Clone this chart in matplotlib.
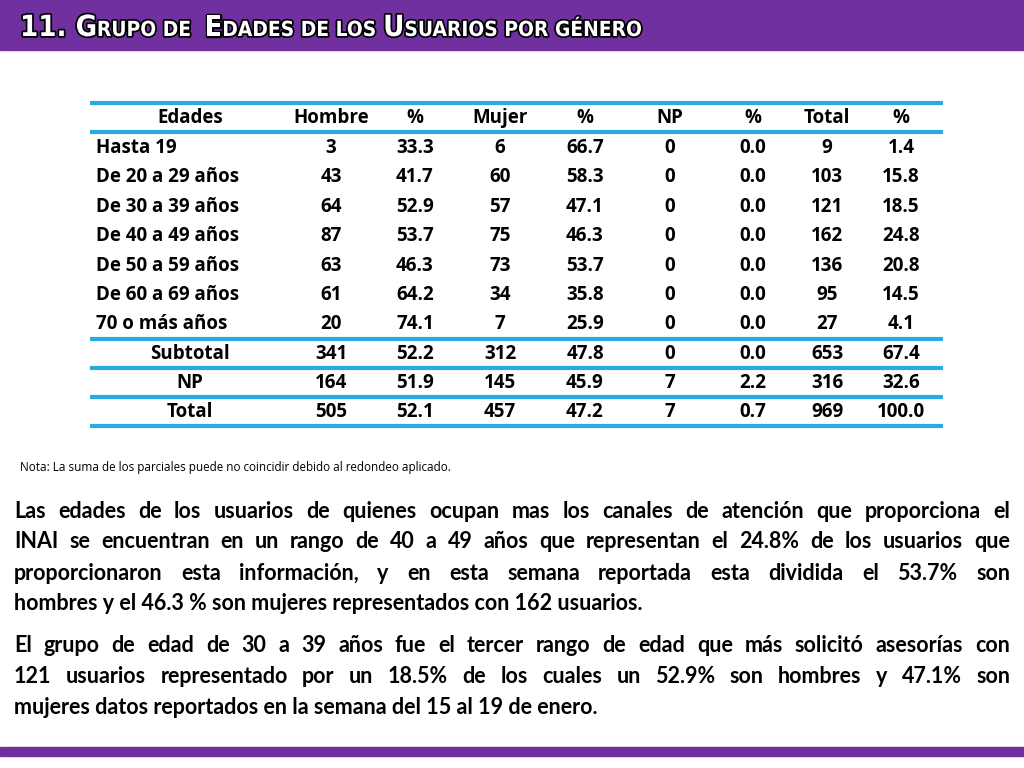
import matplotlib
matplotlib.use("Agg")
import matplotlib.pyplot as plt
from matplotlib import patheffects as pe

W, H = 1024, 768

columns = ["Edades", "Hombre", "%", "Mujer", "%", "NP", "%", "Total", "%"]
ages = ["Hasta 19", "De 20 a 29 años", "De 30 a 39 años", "De 40 a 49 años",
        "De 50 a 59 años", "De 60 a 69 años", "70 o más años"]
hombre = [3, 43, 64, 87, 63, 61, 20]
hombre_pct = [33.3, 41.7, 52.9, 53.7, 46.3, 64.2, 74.1]
mujer = [6, 60, 57, 75, 73, 34, 7]
mujer_pct = [66.7, 58.3, 47.1, 46.3, 53.7, 35.8, 25.9]
np_n = [0, 0, 0, 0, 0, 0, 0]
np_pct = [0.0, 0.0, 0.0, 0.0, 0.0, 0.0, 0.0]
total = [9, 103, 121, 162, 136, 95, 27]
total_pct = [1.4, 15.8, 18.5, 24.8, 20.8, 14.5, 4.1]

summary_labels = ["Subtotal", "NP", "Total"]
summary_rows = [
    [341, 52.2, 312, 47.8, 0, 0.0, 653, 67.4],
    [164, 51.9, 145, 45.9, 7, 2.2, 316, 32.6],
    [505, 52.1, 457, 47.2, 7, 0.7, 969, 100.0],
]

para1 = [
    "Las edades de los usuarios de quienes ocupan mas los canales de atención que proporciona el",
    "INAI se encuentran en un rango de 40 a 49 años que representan el  24.8% de los usuarios que",
    "proporcionaron esta información, y en esta semana reportada esta dividida el 53.7% son",
    "hombres y el 46.3 % son mujeres representados con 162 usuarios.",
]
para2 = [
    "El grupo de edad de 30 a 39 años fue el tercer rango de edad que más solicitó asesorías con",
    "121 usuarios representado por un 18.5% de los cuales un 52.9% son hombres y 47.1% son",
    "mujeres datos reportados en la semana del 15 al 19 de enero.",
]

fig = plt.figure(figsize=(10.24, 7.68), dpi=100)
ax = fig.add_axes([0, 0, 1, 1])
ax.set_xlim(0, W)
ax.set_ylim(H, 0)
ax.axis("off")

purple = "#7030A0"
blue = "#29ABE2"
ax.add_patch(plt.Rectangle((0, 0), W, 50, color=purple))
ax.add_patch(plt.Rectangle((0, 747), W, 9, color=purple))

fig.canvas.draw()
rend = fig.canvas.get_renderer()

def text_width(t, **kw):
    tt = ax.text(0, 0, t, **kw)
    bb = tt.get_window_extent(rend)
    tt.remove()
    return bb.width

# title with small caps
title_parts = [("11. G", 21), ("RUPO DE  ", 15), ("E", 21), ("DADES DE LOS ", 15),
               ("U", 21), ("SUARIOS POR GÉNERO", 15)]
x = 20
for t, fs in title_parts:
    kw = dict(fontsize=fs, fontweight="bold", family="DejaVu Sans", color="white",
              va="baseline", ha="left", stretch="condensed")
    ax.text(x, 36, t, path_effects=[pe.withStroke(linewidth=2.5, foreground="black")], **kw)
    x += text_width(t, **kw)

# table
font = "Open Sans"
tfs = 13.5
centers = [190, 331, 415, 500, 585, 670, 753, 827, 901]
row_y = [118, 148, 177, 207, 236, 266, 295, 324, 354, 383, 412]
for c, lab in zip(centers, columns):
    ax.text(c, row_y[0], lab, ha="center", va="center", fontsize=tfs,
            fontweight="bold", family=font)

def fmt(v):
    return f"{v:.1f}" if isinstance(v, float) else str(v)

for i, age in enumerate(ages):
    y = row_y[i + 1]
    ax.text(96, y, age, ha="left", va="center", fontsize=tfs, fontweight="bold", family=font)
    vals = [hombre[i], hombre_pct[i], mujer[i], mujer_pct[i], np_n[i], np_pct[i],
            total[i], total_pct[i]]
    for c, v in zip(centers[1:], vals):
        ax.text(c, y, fmt(v), ha="center", va="center", fontsize=tfs,
                fontweight="bold", family=font)

for j, (lab, vals) in enumerate(zip(summary_labels, summary_rows)):
    y = row_y[8 + j]
    ax.text(190, y, lab, ha="center", va="center", fontsize=tfs, fontweight="bold", family=font)
    for c, v in zip(centers[1:], vals):
        ax.text(c, y, fmt(v), ha="center", va="center", fontsize=tfs,
                fontweight="bold", family=font)

for ly in [103, 132, 339, 368, 397, 426]:
    ax.plot([90, 943], [ly, ly], color=blue, lw=3, solid_capstyle="butt")

ax.text(20, 467, "Nota: La suma de los parciales puede no coincidir debido al redondeo aplicado.",
        ha="left", va="center", fontsize=8.5, family=font)

# justified paragraphs
bkw = dict(fontsize=15.5, fontweight="bold", family="Lato", va="center", ha="left")
left, right = 14, 1010

def draw_para(lines, y0, step):
    for k, line in enumerate(lines):
        y = y0 + k * step
        if k == len(lines) - 1:
            ax.text(left, y, line, **bkw)
            continue
        words = line.split()
        widths = [text_width(w, **bkw) for w in words]
        gap = (right - left - sum(widths)) / (len(words) - 1)
        xx = left
        for w, ww in zip(words, widths):
            ax.text(xx, y, w, **bkw)
            xx += ww + gap

draw_para(para1, 511, 31)
draw_para(para2, 646, 30.5)

fig.savefig("out.png", dpi=100)
